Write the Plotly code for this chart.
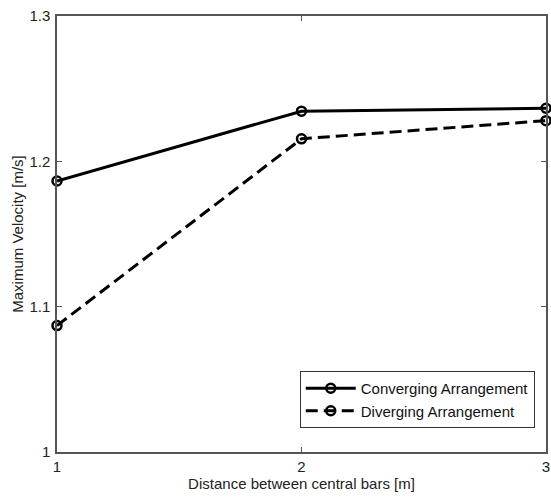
import plotly.graph_objects as go

distance = [1, 2, 3]
converging = [1.1865, 1.2345, 1.2365]
diverging = [1.087, 1.2155, 1.228]
y_ticks = [1.0, 1.1, 1.2, 1.3]
y_tick_labels = ["1", "1.1", "1.2", "1.3"]
x_ticks = [1, 2, 3]
x_tick_labels = ["1", "2", "3"]

fig = go.Figure()
fig.add_trace(go.Scatter(
    x=distance, y=converging, mode="lines+markers", name="Converging Arrangement",
    line=dict(color="black", width=3),
    marker=dict(symbol="circle-open", size=9, color="black", line=dict(width=2.5)),
    cliponaxis=False,
))
fig.add_trace(go.Scatter(
    x=distance, y=diverging, mode="lines+markers", name="Diverging Arrangement",
    line=dict(color="black", width=3, dash="12px,6px"),
    marker=dict(symbol="circle-open", size=9, color="black", line=dict(width=2.5)),
    cliponaxis=False,
))

axis_common = dict(
    showgrid=False, zeroline=False, showline=True, linecolor="#555555", linewidth=1.5,
    mirror="ticks", ticks="inside", ticklen=5, tickcolor="#555555", tickwidth=1,
    tickfont=dict(family="Liberation Sans, Arial", size=15, color="#222222"),
    automargin=False,
)

fig.update_layout(
    width=551, height=497,
    margin=dict(l=57, r=5, t=16, b=45),
    paper_bgcolor="white", plot_bgcolor="white",
    font=dict(family="Liberation Sans, Arial", size=15, color="#222222"),
    xaxis=dict(range=[1, 3], tickvals=x_ticks, ticktext=x_tick_labels,
               ticklabelstandoff=0,
               title=dict(text="Distance between central bars [m]", standoff=0,
                          font=dict(size=15)), **axis_common),
    yaxis=dict(range=[1, 1.3], tickvals=y_ticks, ticktext=y_tick_labels,
               ticklabelstandoff=2,
               title=dict(text="Maximum Velocity [m/s]", standoff=2,
                          font=dict(size=15)), **axis_common),
    legend=dict(x=0.977, y=0.055, xanchor="right", yanchor="bottom",
                bgcolor="white", bordercolor="#333333", borderwidth=1,
                itemwidth=50,
                font=dict(size=15, color="#111111"), tracegroupgap=0),
    showlegend=True,
)

# remove the browser's default 8px body margin so the figure fills the window exactly
fig.write_html(
    "out.html",
    config={"displayModeBar": False},
    post_script="document.body.style.margin='0';document.body.style.overflow='hidden';",
)
